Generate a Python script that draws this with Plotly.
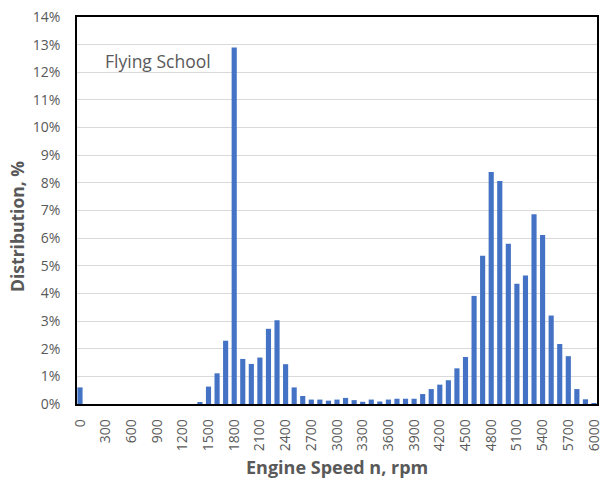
import plotly.graph_objects as go

rpm = list(range(0, 6100, 100))
distribution = [
    0.60, 0, 0, 0, 0, 0, 0, 0, 0, 0, 0, 0, 0, 0, 0.07, 0.63, 1.11, 2.29, 12.9, 1.63,
    1.45, 1.68, 2.72, 3.03, 1.44, 0.60, 0.29, 0.16, 0.16, 0.12, 0.16, 0.22, 0.14, 0.08,
    0.16, 0.09, 0.16, 0.19, 0.19, 0.19, 0.36, 0.54, 0.70, 0.86, 1.29, 1.70, 3.91, 5.36,
    8.39, 8.07, 5.80, 4.35, 4.65, 6.86, 6.11, 3.20, 2.17, 1.73, 0.54, 0.17, 0.02,
]
x_ticks = list(range(0, 6100, 300))
y_ticks = list(range(0, 15))

font_family = "Open Sans, Liberation Sans, sans-serif"
grey = "#595959"

fig = go.Figure(go.Bar(x=rpm, y=distribution, marker=dict(color="#4472C4", line=dict(width=0))))

fig.update_layout(
    width=601, height=480,
    margin=dict(l=77, r=4, t=17, b=76, autoexpand=False),
    paper_bgcolor="white", plot_bgcolor="white",
    bargap=0.4,
    showlegend=False,
    font=dict(family=font_family, color=grey),
    annotations=[
        dict(text="Flying School", xref="paper", yref="paper", x=0.05, y=0.887,
             xanchor="left", yanchor="middle", showarrow=False,
             font=dict(size=17.5, color=grey, family=font_family)),
        dict(text="<b>Engine Speed n, rpm</b>", xref="paper", yref="paper", x=0.5, y=-0.163,
             xanchor="center", yanchor="middle", showarrow=False,
             font=dict(size=18, color=grey, family=font_family)),
        dict(text="<b>Distribution, %</b>", xref="paper", yref="paper", x=-0.115, y=0.458,
             xanchor="center", yanchor="middle", showarrow=False, textangle=-90,
             font=dict(size=17.5, color=grey, family=font_family)),
    ],
)
fig.update_xaxes(
    range=[-35, 6035], tickvals=x_ticks, ticktext=[str(v) for v in x_ticks],
    tickangle=-90, tickfont=dict(size=14, color=grey), showgrid=False,
    showline=True, linecolor="black", linewidth=1.5, mirror=True, ticks="",
    ticklabelstandoff=8, automargin=False, ticklabeloverflow="allow",
)
fig.update_yaxes(
    range=[0, 14], tickvals=y_ticks, ticktext=[f"{v}%" for v in y_ticks],
    tickfont=dict(size=14, color=grey), showgrid=True, gridcolor="#d9d9d9", gridwidth=1,
    showline=True, linecolor="black", linewidth=1.5, mirror=True, ticks="", zeroline=False,
    ticklabelstandoff=12, automargin=False,
)

fig.write_html("out.html", config={"displayModeBar": False},
               post_script="document.body.style.margin='0';")
